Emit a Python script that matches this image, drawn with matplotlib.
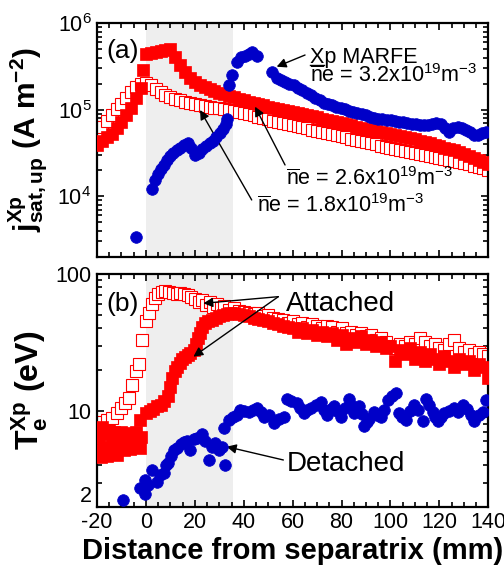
import numpy as np
import matplotlib
matplotlib.use("Agg")
import matplotlib.pyplot as plt
from matplotlib.ticker import MultipleLocator, LogLocator, NullFormatter, FixedLocator, FixedFormatter

plt.rcParams['font.family'] = ['Liberation Sans', 'DejaVu Sans']
plt.rcParams['mathtext.fontset'] = 'custom'
plt.rcParams['mathtext.rm'] = 'Liberation Sans'
plt.rcParams['mathtext.it'] = 'Liberation Sans:italic'
plt.rcParams['mathtext.bf'] = 'Liberation Sans:bold'
plt.rcParams['axes.unicode_minus'] = False

RED = '#ff0000'
BLUE = '#0000c8'

# ---- (a) upstream jsat at X-point ----
x_grid = np.arange(-20, 141, 2)

# ne = 1.8e19 (open squares)
jsat_18 = [5.6e4, 6.3e4, 7.4e4, 8.7e4, 1.01e5, 1.18e5, 1.38e5, 1.62e5, 1.85e5, 2.0e5,
           2.02e5, 1.92e5, 1.76e5, 1.62e5, 1.5e5, 1.41e5, 1.34e5, 1.28e5, 1.23e5, 1.19e5,
           1.16e5, 1.13e5, 1.1e5, 1.08e5, 1.06e5, 1.04e5, 1.02e5, 1.0e5, 9.8e4, 9.5e4,
           9.2e4, 8.9e4, 8.6e4, 8.3e4, 8.0e4, 7.8e4, 7.5e4, 7.3e4, 7.1e4, 6.9e4,
           6.7e4, 6.5e4, 6.3e4, 6.1e4, 5.9e4, 5.75e4, 5.6e4, 5.4e4, 5.25e4, 5.1e4,
           4.95e4, 4.8e4, 4.65e4, 4.5e4, 4.4e4, 4.25e4, 4.1e4, 4.0e4, 3.85e4, 3.75e4,
           3.65e4, 3.55e4, 3.45e4, 3.35e4, 3.25e4, 3.15e4, 3.05e4, 2.97e4, 2.9e4, 2.83e4,
           2.76e4, 2.69e4, 2.62e4, 2.55e4, 2.48e4, 2.4e4, 2.33e4, 2.26e4, 2.18e4, 2.1e4,
           2.02e4]

# ne = 2.6e19 (filled squares)
x_26 = list(range(-20, -1, 2)) + [-1] + list(range(0, 141, 2))
jsat_26 = [3.9e4, 4.3e4, 4.8e4, 5.3e4, 6.1e4, 7.2e4, 8.6e4, 1.05e5, 1.35e5, 1.8e5,
           2.9e5,
           4.4e5, 4.5e5, 4.6e5, 4.75e5, 4.95e5, 5.1e5, 4.1e5, 3.3e5, 2.75e5, 2.35e5,
           2.1e5, 1.93e5, 1.82e5, 1.72e5, 1.64e5, 1.57e5, 1.51e5, 1.45e5, 1.4e5, 1.34e5,
           1.28e5, 1.24e5, 1.2e5, 1.16e5, 1.12e5, 1.09e5, 1.06e5, 1.03e5, 1.0e5, 9.7e4,
           9.4e4, 9.1e4, 8.9e4, 8.6e4, 8.4e4, 8.2e4, 7.9e4, 7.7e4, 7.5e4, 7.2e4,
           7.0e4, 6.8e4, 6.6e4, 6.4e4, 6.2e4, 6.05e4, 5.9e4, 5.75e4, 5.6e4, 5.45e4,
           5.3e4, 5.15e4, 5.0e4, 4.85e4, 4.7e4, 4.55e4, 4.4e4, 4.25e4, 4.1e4, 3.95e4,
           3.8e4, 3.65e4, 3.5e4, 3.38e4, 3.25e4, 3.1e4, 2.95e4, 2.8e4, 2.65e4, 2.5e4,
           2.35e4]

# ne = 3.2e19, X-point MARFE (filled circles)
x_32a = [-4, 2.4, 3.8, 5, 6.2, 7.5, 8.8, 9.9, 11.2, 12.6, 14, 15.5, 17.2, 18.6, 20.1,
         21.5, 23, 24.5, 26, 27.4, 28.8, 30.2, 31.5, 32.6, 33.2, 33.8, 35.0, 37.2, 38.8,
         40.5, 42, 43.5, 45.3,
         51.6, 53.4, 55.2, 57, 58.7, 60.4, 62.2, 64, 65.8, 67.5, 69.2, 71, 72.7, 74.4,
         76.2, 77.9, 79.6, 81.3, 83, 84.8, 86.5, 88.2, 89.9, 91.6, 93.3, 95, 96.7, 98.4,
         100.1, 101.8, 103.5, 105.2, 106.9, 108.6, 110.3, 112, 113.7, 115.4, 117.1, 118.8,
         120.5, 122.2, 124, 125.7, 127.4, 129.1, 130.8, 132.5, 134.2, 135.9, 137.6, 139.2]
jsat_32 = [3.4e3, 1.2e4, 1.55e4, 1.8e4, 2.05e4, 2.3e4, 2.6e4, 2.9e4, 3.2e4, 3.45e4,
           3.65e4, 3.9e4, 4.15e4, 3.6e4, 3.0e4, 3.2e4, 3.5e4, 3.8e4, 4.1e4, 4.4e4,
           4.8e4, 5.4e4, 6.0e4, 6.8e4, 7.8e4, 1.95e5, 2.55e5, 3.6e5, 4.05e5, 4.2e5,
           4.4e5, 4.6e5, 4.2e5,
           2.75e5, 2.35e5, 2.2e5, 2.1e5, 2.0e5, 1.93e5, 1.8e5, 1.68e5, 1.56e5, 1.47e5,
           1.38e5, 1.28e5, 1.2e5, 1.16e5, 1.12e5, 1.08e5, 1.05e5, 1.01e5, 9.7e4, 9.4e4,
           9.1e4, 8.9e4, 8.6e4, 8.3e4, 8.0e4, 7.9e4, 7.8e4, 7.7e4, 7.6e4, 7.4e4,
           7.3e4, 7.2e4, 7.0e4, 6.9e4, 6.8e4, 6.7e4, 6.6e4, 6.7e4, 6.9e4, 7.0e4,
           6.9e4, 6.2e4, 5.6e4, 6.1e4, 6.4e4, 6.2e4, 5.9e4, 5.5e4, 5.1e4, 5.1e4,
           5.4e4, 5.5e4]

# ---- (b) Te at X-point ----
x_te18 = [-20, -19.5, -19, -18, -16, -14, -12, -10, -8.5, -7, -5.5, -4, -3, -1.5, 0,
          1.2, 2.4, 3.6, 5, 6.5, 8, 9.5, 11, 12.5, 14, 15.5, 17, 18.5, 20, 21.5, 23,
          24.5, 26, 27.5, 29, 30.5, 32, 34, 36, 38, 40, 42, 44, 46, 48, 50, 52, 54, 56,
          58, 60, 62, 64, 66, 68, 70, 72, 74, 76, 78, 80, 82, 84, 86, 88, 90, 92, 94,
          96, 98, 100, 102, 104, 106, 108, 110, 112, 114, 116, 118, 120, 122, 124, 126,
          128, 130, 132, 134, 136, 138, 140]
te_18 = [4.8, 6.0, 7.4, 8.3, 8.6, 8.9, 9.6, 10.5, 11.5, 12.5, 15.5, 19.5, 22, 33, 45,
         52, 60, 67, 71, 74, 75, 74, 73, 72, 73, 71, 70, 68, 66, 62, 65,
         59, 62, 57, 60, 56, 58, 55, 56, 54, 53, 52, 51, 52, 49, 50, 48, 47, 46,
         44, 45, 43, 44, 41, 43, 42, 40, 42, 41, 38, 40, 37, 38, 36, 37, 35, 36, 33,
         34, 32, 30, 29, 31, 30, 32, 31, 34, 32, 30, 31, 29, 28, 31, 33,
         29, 27, 28, 26, 27, 26, 25]

x_te26 = [-20, -19.5, -19, -18.5, -18, -17, -16.5, -16, -15, -14.5, -14, -13, -12.5, -12,
          -11, -10.5, -10, -9, -8.5, -8, -7, -6.5, -6, -5, -4.5, -4, -3, -2.5, -2,
          -2.5, 0, 1.5, 3, 4.5, 6, 7.5, 9, 10, 10.8, 11.8, 12.8, 13.8, 14.8, 15.8, 17,
          18.2, 19.5, 20.5, 21.3, 22, 23, 24, 25.5, 27, 28.5, 30, 31.5, 33, 34.5,
          36, 38, 40, 42, 44, 46, 48, 50, 52, 54, 56, 58, 60, 62, 64, 66, 68, 70, 72,
          74, 76, 78, 80, 82, 84, 86, 88, 90, 92, 94, 96, 98, 100, 102, 104, 106, 108,
          110, 112, 114, 116, 118, 120, 122, 124, 126, 128, 130, 132, 134, 136, 138, 140]
te_26 = [7.5, 5.2, 6.3, 4.6, 7.6, 5.5, 6.8, 4.7, 7.2, 5.0, 6.2, 7.0, 5.4, 4.8,
         6.6, 5.6, 7.0, 5.2, 6.4, 5.8, 6.9, 5.3, 6.1, 6.7, 5.5, 7.0, 6.0, 5.4, 6.5,
         8.6, 9.6, 10, 10.4, 10.8, 11.1, 11.8, 12.8, 15, 17.5, 19.5, 21, 22.5, 23.8, 24.8, 25.8,
         26.5, 28, 31, 34, 37, 41, 43.5, 45, 46.5, 48, 49, 50, 51, 52,
         52, 51, 50, 49, 48, 47, 46, 45, 44, 43, 42, 41, 40, 38, 40, 37, 39, 36, 38,
         35, 37, 33, 36, 31, 34, 32, 35, 31, 33, 30, 32, 29, 30, 23, 28, 26, 29,
         24, 27, 23, 26, 24, 22, 25, 23, 21, 24, 22, 23, 20, 22, 21, 17.5]

x_te32 = [-9.2, -2.4, -0.3, -0.3, 1, 2.4, 4.4, 5.8, 7.2, 8.2, 9.2, 10.3, 11.3, 12.8, 14.2,
          15.5, 16.7, 18.1, 19.5, 21, 22.9, 24.3, 25.6, 27, 28.4, 29.7, 31, 32.4, 31.8,
          33.8, 35.5, 37.2, 38.6, 40.2, 42, 43.8, 45.5, 47, 48.2, 50.2, 52.3, 54.3, 56.4,
          57.7, 59.5, 61.8, 63.2, 64.6, 66, 67.3, 69.4, 71.4, 72.8, 74.2, 75.6, 76.9,
          78.3, 79.6, 81.3, 83, 84, 85.1, 87.1, 88.2, 89.2, 90.2, 91.2, 93.2, 94.6, 96,
          97.4, 98.8, 100.5, 102.2, 103.6, 104.9, 106.3, 108, 109.7, 111.4, 113.1, 114.5,
          115.8, 117.2, 118.2, 119.3, 120.6, 122, 124, 126.1, 127.8, 129.5, 131.2, 132.9,
          134.3, 136, 137.7, 139]
te_32 = [2.24, 2.73, 2.49, 3.13, 2.9, 3.7, 3.05, 3.4, 3.5, 4.0, 4.2, 4.7, 5.2, 5.4, 5.7,
         5.9, 6.0, 5.2, 6.2, 6.4, 6.8, 6.0, 4.4, 5.5, 5.8, 5.2, 5.5, 4.0, 7.5,
         8.6, 9.1, 9.4, 10.2, 10.0, 9.8, 10.2, 10.5, 9.8, 9.1, 9.3, 8.1, 8.8, 9.1,
         12.3, 11.8, 11.4, 10.5, 9.6, 10.1, 10.5, 11.0, 11.7, 10.2, 9.3, 10.3, 10.8,
         10.0, 9.1, 10.5, 12.3, 11.0, 9.6, 10.8, 9.5, 7.7, 8.3, 8.8, 9.9, 9.4, 9.1,
         10.2, 12.0, 12.8, 13.5, 9.6, 9.0, 8.6, 10.0, 11.0, 10.2, 8.4, 12.3,
         11.0, 9.9, 9.0, 8.4, 9.0, 9.6, 10.0, 10.5, 9.8, 11.0, 10.3, 9.4,
         8.4, 9.4, 9.9, 12.0]

shade_span = (0, 35.5)

fig = plt.figure(figsize=(5.04, 5.69), dpi=100)
ax1 = fig.add_axes([0.1925, 0.5489, 0.7764, 0.4102])
ax2 = fig.add_axes([0.1925, 0.1095, 0.7764, 0.4090])

sq = dict(marker='s', ms=8.0, ls='none')
circ = dict(marker='o', ms=8.4, ls='none', mfc=BLUE, mec=BLUE, mew=0.5, zorder=4)
for ax in (ax1, ax2):
    ax.axvspan(*shade_span, color='#eeeeee', zorder=0, lw=0)

ax1.plot(x_grid, jsat_18, mfc='white', mec=RED, mew=0.8, zorder=2, **sq)
ax1.plot(x_26, jsat_26, mfc=RED, mec=RED, mew=0.5, zorder=3, **sq)
ax1.plot(x_32a, jsat_32, **circ)

ax2.plot(x_te18, te_18, mfc='white', mec=RED, mew=0.8, zorder=2, **sq)
ax2.plot(x_te26, te_26, mfc=RED, mec=RED, mew=0.5, zorder=3, **sq)
ax2.plot(x_te32, te_32, **circ)

for ax in (ax1, ax2):
    ax.set_yscale('log')
    ax.set_xlim(-20, 140)
    ax.xaxis.set_major_locator(MultipleLocator(20))
    ax.xaxis.set_minor_locator(MultipleLocator(5))
    ax.tick_params(which='both', direction='in', top=True, right=True, width=1.2,
                   labelsize=15.5, pad=4)
    ax.tick_params(which='major', length=5)
    ax.tick_params(which='minor', length=3.5)
    for s in ax.spines.values():
        s.set_linewidth(1.6)

ax1.set_ylim(2e3, 1e6)
ax1.tick_params(labelbottom=False)
ax1.yaxis.set_minor_locator(LogLocator(base=10, subs=np.arange(2, 10)))
ax1.yaxis.set_minor_formatter(NullFormatter())

ax2.set_ylim(2, 100)
ax2.yaxis.set_major_locator(FixedLocator([2, 10, 100]))
ax2.yaxis.set_major_formatter(FixedFormatter(['2', '10', '100']))
ax2.yaxis.set_minor_locator(LogLocator(base=10, subs=np.arange(2, 10)))
ax2.yaxis.set_minor_formatter(NullFormatter())
# the "2" label sits just above the bottom spine, clear of the x tick labels
ax2.yaxis.get_major_ticks()[0].label1.set_verticalalignment('bottom')

ax1.set_ylabel(r'$\mathbf{j^{Xp}_{sat,up}}$ (A m$^{\mathbf{-2}}$)', fontsize=21.5, fontweight='bold')
ax2.set_ylabel(r'$\mathbf{T_e^{Xp}}$ (eV)', fontsize=23, fontweight='bold')
ax1.yaxis.set_label_coords(-0.12, 0.5)
ax2.yaxis.set_label_coords(-0.12, 0.5)
ax2.set_xlabel('Distance from separatrix (mm)', fontsize=21, fontweight='bold', labelpad=3)

# annotations
arr = dict(arrowstyle='-|>', color='black', lw=1.0, mutation_scale=14, shrinkA=0, shrinkB=0)
ax1.text(0.025, 0.85, '(a)', transform=ax1.transAxes, fontsize=19, va='baseline')
ax1.text(0.544, 0.831, 'Xp MARFE', transform=ax1.transAxes, fontsize=15.5, va='baseline')
ax1.plot([0.544, 0.581], [0.822, 0.822], transform=ax1.transAxes, color='black', lw=1.0,
         clip_on=False)
ax1.text(0.544, 0.75, r'$\overline{\mathrm{n}}$e = 3.2x10$^{19}$m$^{-3}$',
         transform=ax1.transAxes, fontsize=15.5, va='baseline')
ax1.text(0.482, 0.307, r'$\overline{\mathrm{n}}$e = 2.6x10$^{19}$m$^{-3}$',
         transform=ax1.transAxes, fontsize=15.5, va='baseline')
ax1.text(0.408, 0.193, r'$\overline{\mathrm{n}}$e = 1.8x10$^{19}$m$^{-3}$',
         transform=ax1.transAxes, fontsize=15.5, va='baseline')
ax1.annotate('', xy=(0.459, 0.814), xytext=(0.5316, 0.864), xycoords='axes fraction', arrowprops=arr)
ax1.annotate('', xy=(0.4038, 0.6427), xytext=(0.4805, 0.3929), xycoords='axes fraction', arrowprops=arr)
ax1.annotate('', xy=(0.2632, 0.6285), xytext=(0.3953, 0.243), xycoords='axes fraction', arrowprops=arr)

ax2.text(0.025, 0.842, '(b)', transform=ax2.transAxes, fontsize=19, va='baseline')
ax2.text(0.483, 0.842, 'Attached', transform=ax2.transAxes, fontsize=20, va='baseline')
ax2.text(0.486, 0.155, 'Detached', transform=ax2.transAxes, fontsize=20, va='baseline')
ax2.annotate('', xy=(0.2717, 0.874), xytext=(0.4634, 0.9025), xycoords='axes fraction', arrowprops=arr)
ax2.annotate('', xy=(0.2462, 0.6446), xytext=(0.4634, 0.9025), xycoords='axes fraction', arrowprops=arr)
ax2.annotate('', xy=(0.3314, 0.2578), xytext=(0.4762, 0.2007), xycoords='axes fraction', arrowprops=arr)

fig.savefig('out.png', dpi=100)
